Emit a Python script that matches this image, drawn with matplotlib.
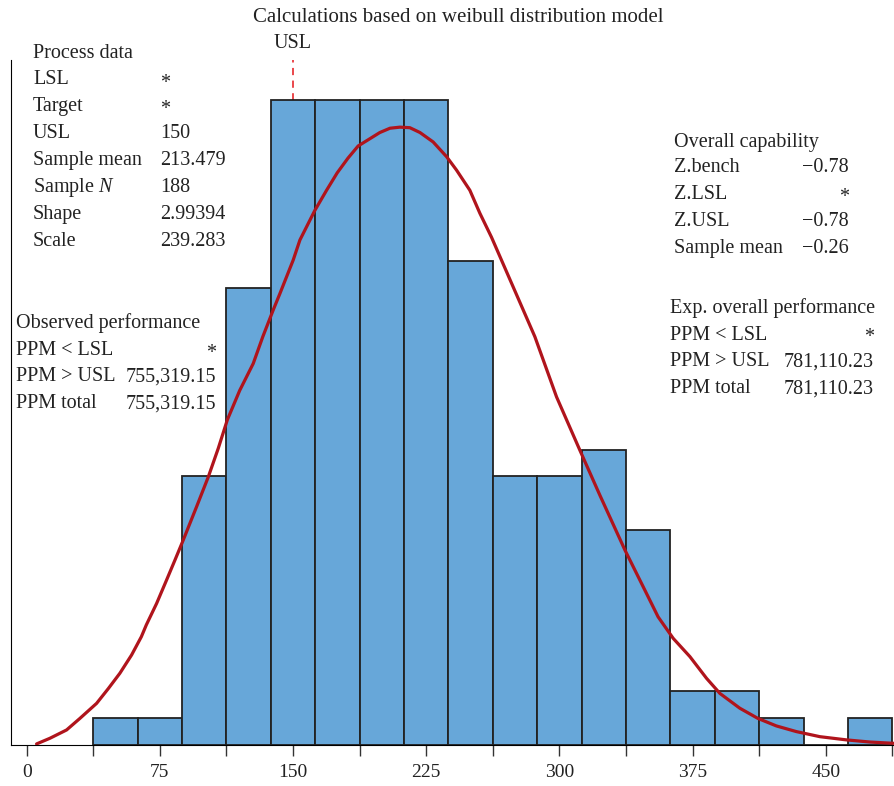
import numpy as np
import matplotlib.pyplot as plt
from matplotlib.ticker import MultipleLocator

plt.rcParams['font.family'] = ['Liberation Serif', 'DejaVu Serif']
plt.rcParams['mathtext.fontset'] = 'custom'
plt.rcParams['mathtext.it'] = 'Liberation Serif:italic'
plt.rcParams['mathtext.rm'] = 'Liberation Serif'

# histogram: bin edges and counts
bin_edges = [37.5 + 25 * i for i in range(19)]
counts = [1, 1, 10, 17, 24, 24, 24, 24, 18, 10, 10, 11, 8, 2, 2, 1, 0, 1]

# fitted curve (x value, count scale)
curve_x = [5.6, 13.1, 22.5, 30, 39.4, 46, 52.5, 59.1, 64.6, 67.4, 73.2, 78.8, 83.5,
           88.2, 95.7, 102.3, 107.9, 113, 120, 127.6, 133, 138.9, 142.6, 150.1,
           153.9, 162.3, 168.9, 174.9, 181, 186.7, 193.3, 198.9, 204.6, 210.2,
           215.8, 221.5, 228.9, 236.5, 242.1, 249.6, 255.2, 261.8, 274, 286.2,
           298.4, 311.5, 322.8, 336.9, 347.2, 355.6, 364.1, 373.5, 382.9, 390.4,
           401.6, 411.8, 422.2, 433.4, 446.7, 461.7, 475, 489]
curve_y = [0.04, 0.25, 0.56, 0.99, 1.55, 2.1, 2.67, 3.35, 4.03, 4.47, 5.27, 6.14, 6.88,
           7.63, 8.87, 9.98, 11.04, 12.1, 13.2, 14.2, 15.2, 16.2, 16.8, 18.05,
           18.8, 19.9, 20.65, 21.3, 21.85, 22.3, 22.57, 22.8, 22.96, 23.0,
           22.98, 22.8, 22.45, 21.9, 21.4, 20.65, 19.8, 18.9, 17.05, 15.2,
           12.96, 10.98, 9.3, 7.26, 5.89, 4.77, 3.97, 3.29, 2.48, 1.92,
           1.37, 0.99, 0.71, 0.5, 0.31, 0.19, 0.11, 0.06]

usl = 150

process_lbl = ["LSL", "Target", "USL", "Sample mean", "Sample $N$", "Shape", "Scale"]
process_val = ["*", "*", "150", "213.479", "188", "2.99394", "239.283"]
obs_lbl = ["PPM < LSL", "PPM > USL", "PPM total"]
obs_val = ["*", "755,319.15", "755,319.15"]
cap_lbl = ["Z.bench", "Z.LSL", "Z.USL", "Sample mean"]
cap_val = ["\u22120.78", "*", "\u22120.78", "\u22120.26"]
exp_lbl = ["PPM < LSL", "PPM > USL", "PPM total"]
exp_val = ["*", "781,110.23", "781,110.23"]

W, H = 895, 786
fig = plt.figure(figsize=(W / 100, H / 100), dpi=100)
ax = fig.add_axes([11 / W, 41 / H, 884 / W, 685 / H])

ax.axvline(usl, color='#e8383d', ls=(0, (4, 3)), lw=1.3, zorder=1)
ax.bar(bin_edges[:-1], counts, width=25, align='edge', color='#67a7d9',
       edgecolor='#222222', linewidth=1.3, zorder=2)
ax.plot(curve_x, curve_y, color='#b0141c', lw=2.3, zorder=3,
        solid_joinstyle='round', solid_capstyle='round')

ax.set_xlim(-8.8, 489)
ax.set_ylim(0, 25.5)
ax.spines['top'].set_visible(False)
ax.spines['right'].set_visible(False)
ax.set_yticks([])
ax.set_xticks([0, 75, 150, 225, 300, 375, 450])
ax.xaxis.set_minor_locator(MultipleLocator(37.5))
ax.tick_params(axis='x', which='both', direction='out', length=8, width=1, colors='#333333',
               labelcolor='#222222', labelsize=14, pad=6)

fs = 14.5
txt = dict(fontsize=fs, color='#222222', va='center')


def px(x, y):
    return x / W, 1 - y / H


fig.text(*px(458, 17), "Calculations based on weibull distribution model", ha='center',
         fontsize=15, color='#222222', va='center')
fig.text(*px(293, 44), "USL", ha='center', **txt)

fig.text(*px(33, 53), "Process data", ha='left', **txt)
for i, (l, v) in enumerate(zip(process_lbl, process_val)):
    y = 80 + 26.9 * i
    fig.text(*px(33, y), l, ha='left', **txt)
    fig.text(*px(160, y + (3 if v == "*" else 0)), v, ha='left', **txt)

fig.text(*px(16, 323), "Observed performance", ha='left', **txt)
for i, (l, v) in enumerate(zip(obs_lbl, obs_val)):
    y = 350 + 26.9 * i
    fig.text(*px(16, y), l, ha='left', **txt)
    fig.text(*px(216, y + (3 if v == "*" else 0)), v, ha='right', **txt)

fig.text(*px(674, 142), "Overall capability", ha='left', **txt)
for i, (l, v) in enumerate(zip(cap_lbl, cap_val)):
    y = 168 + 26.9 * i
    fig.text(*px(674, y), l, ha='left', **txt)
    fig.text(*px(849, y + (3 if v == "*" else 0)), v, ha='right', **txt)

fig.text(*px(670, 308), "Exp. overall performance", ha='left', **txt)
for i, (l, v) in enumerate(zip(exp_lbl, exp_val)):
    y = 335 + 26.9 * i
    fig.text(*px(670, y), l, ha='left', **txt)
    fig.text(*px(874, y + (3 if v == "*" else 0)), v, ha='right', **txt)

fig.savefig("out.png", dpi=100)
